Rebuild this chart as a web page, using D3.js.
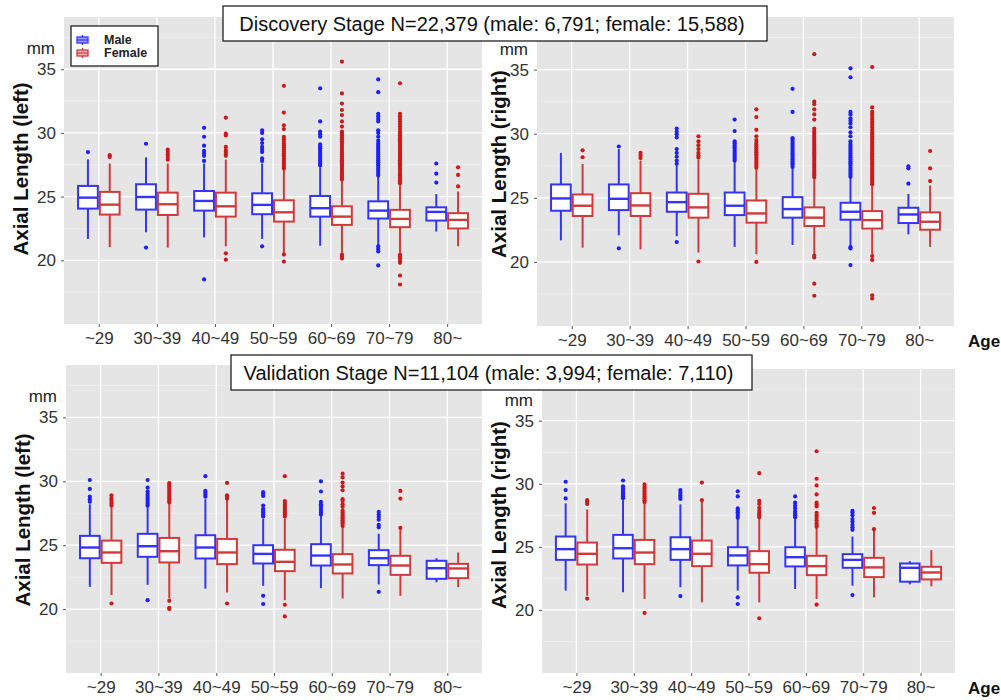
<!DOCTYPE html>
<html>
<head>
<meta charset="utf-8">
<script src="https://cdn.jsdelivr.net/npm/d3@7"></script>
<style>
  body { margin: 0; background: #fff; }
  svg { font-family: Arial, "Liberation Sans", sans-serif; }
</style>
</head>
<body>
<div id="chart"></div>
<script>
const ages = ['~29', '30~39', '40~49', '50~59', '60~69', '70~79', '80~']
const sexes = ['Male', 'Female']
const yTicks = [20, 25, 30, 35]
const yMinor = [17.5, 22.5, 27.5, 32.5, 37.5]
const yDomain = [15, 39.1]

/* [lower whisker, q1, median, q3, upper whisker] */
const tlMale = [
  [21.68, 24.06, 24.92, 25.84, 27.92], [22.2, 23.98, 24.97, 25.97, 28.08], [21.8, 23.9, 24.66, 25.44, 27.6],
  [21.68, 23.62, 24.35, 25.26, 27.6], [21.14, 23.43, 24.09, 25.05, 27.3], [21.2, 23.28, 23.9, 24.63, 26.55],
  [22.26, 23.12, 23.8, 24.16, 25.2]
]
const tlFemale = [
  [21.03, 23.59, 24.37, 25.37, 27.6], [21.0, 23.56, 24.4, 25.31, 27.6], [21.1, 23.43, 24.24, 25.31, 27.9],
  [20.56, 23.04, 23.77, 24.71, 27.1], [20.6, 22.78, 23.43, 24.24, 26.3], [20.6, 22.6, 23.25, 23.96, 26.0],
  [21.1, 22.5, 23.17, 23.7, 25.4]
]
const tlMaleOut = [
  [28.5],
  [29.15, 21.0],
  [27.8, 28.2, 28.4, 28.6, 29.0, 29.7, 30.4, 18.5],
  [27.8, 28.0, 28.5, 28.7, 28.9, 29.2, 29.5, 30.0, 30.2, 21.1],
  [27.45, 27.6, 27.75, 27.9, 28.05, 28.2, 28.35, 28.5, 28.65, 28.8, 28.95, 29.1, 29.7, 29.9, 30.1, 30.9, 33.5],
  [26.65, 26.8, 26.95, 27.1, 27.25, 27.4, 27.55, 27.7, 27.85, 28.0, 28.15, 28.3, 28.45, 28.6, 28.75, 28.9,
   29.05, 29.2, 29.4, 29.7, 30.0, 30.2, 30.9, 31.1, 31.3, 31.5, 33.2, 34.2, 21.1, 20.9, 20.7, 19.6],
  [26.1, 26.8, 27.6]
]
const tlFemaleOut = [
  [28.1, 28.25],
  [27.9, 28.1, 28.3, 28.5, 28.7],
  [28.2, 28.35, 28.5, 28.65, 28.9, 29.8, 29.95, 31.2, 20.55, 20.05],
  [27.2, 27.35, 27.5, 27.65, 27.8, 27.95, 28.1, 28.25, 28.4, 28.55, 28.7, 28.85, 29.0, 29.15, 29.3, 29.5,
   29.7, 30.3, 30.6, 31.6, 33.7, 20.45, 19.9],
  [26.35, 26.5, 26.65, 26.8, 26.95, 27.1, 27.25, 27.4, 27.55, 27.7, 27.85, 28.0, 28.15, 28.3, 28.45, 28.6,
   28.75, 28.9, 29.05, 29.2, 29.35, 29.5, 29.65, 29.8, 29.95, 30.1, 30.5, 30.9, 31.4, 31.8, 32.3, 33.1, 35.6,
   20.15, 20.3, 20.45],
  [26.05, 26.2, 26.35, 26.5, 26.65, 26.8, 26.95, 27.1, 27.25, 27.4, 27.55, 27.7, 27.85, 28.0, 28.15, 28.3,
   28.45, 28.6, 28.75, 28.9, 29.05, 29.2, 29.35, 29.5, 29.65, 29.8, 29.95, 30.1, 30.3, 30.5, 30.7, 30.9,
   31.1, 31.3, 31.5, 33.9, 20.45, 20.3, 20.15, 19.95, 19.8, 18.8, 18.1],
  [25.8, 26.7, 27.3]
]

const trMale = [
  [21.68, 23.99, 24.95, 26.04, 28.5], [22.07, 24.04, 24.92, 26.04, 28.8], [22.0, 23.91, 24.66, 25.41, 27.5],
  [21.17, 23.65, 24.38, 25.41, 27.8], [21.32, 23.45, 24.12, 25.05, 27.3], [21.24, 23.29, 23.91, 24.61, 26.55],
  [22.15, 23.03, 23.7, 24.22, 25.3]
]
const trFemale = [
  [21.11, 23.58, 24.38, 25.26, 27.64], [20.98, 23.58, 24.4, 25.36, 27.9], [20.73, 23.45, 24.25, 25.31, 28.0],
  [20.6, 23.06, 23.78, 24.79, 27.3], [20.6, 22.8, 23.45, 24.25, 26.55], [20.6, 22.6, 23.26, 23.96, 26.0],
  [21.17, 22.51, 23.13, 23.86, 25.96]
]
const trMaleOut = [
  [],
  [29.0, 21.06],
  [27.65, 27.9, 28.2, 28.5, 28.8, 29.7, 29.95, 30.15, 30.4, 21.55],
  [27.9, 28.05, 28.2, 28.35, 28.5, 28.65, 28.8, 28.95, 29.1, 29.25, 29.4, 30.2, 31.1],
  [27.4, 27.55, 27.7, 27.85, 28.0, 28.15, 28.3, 28.45, 28.6, 28.75, 28.9, 29.05, 29.2, 29.35, 29.5, 29.65,
   31.7, 33.5],
  [26.65, 26.8, 26.95, 27.1, 27.25, 27.4, 27.55, 27.7, 27.85, 28.0, 28.15, 28.3, 28.45, 28.6, 28.75, 28.9,
   29.05, 29.2, 29.4, 29.8, 30.1, 30.5, 30.8, 31.0, 31.2, 31.5, 31.7, 34.4, 35.1, 21.15, 21.05, 19.75],
  [26.1, 27.3, 27.45]
]
const trFemaleOut = [
  [28.16, 28.7],
  [28.1, 28.3, 28.5],
  [28.15, 28.3, 28.5, 28.8, 29.1, 29.4, 29.8, 20.03],
  [27.35, 27.5, 27.65, 27.8, 27.95, 28.1, 28.25, 28.4, 28.55, 28.7, 28.85, 29.0, 29.15, 29.3, 29.5, 29.8,
   30.3, 31.3, 31.9, 20.0],
  [26.6, 26.75, 26.9, 27.05, 27.2, 27.35, 27.5, 27.65, 27.8, 27.95, 28.1, 28.25, 28.4, 28.55, 28.7, 28.85,
   29.0, 29.15, 29.3, 29.45, 29.6, 29.75, 29.9, 30.05, 30.2, 30.4, 31.1, 31.5, 31.9, 32.3, 32.5, 36.2,
   20.35, 20.5, 18.3, 17.36],
  [26.05, 26.2, 26.35, 26.5, 26.65, 26.8, 26.95, 27.1, 27.25, 27.4, 27.55, 27.7, 27.85, 28.0, 28.15, 28.3,
   28.45, 28.6, 28.75, 28.9, 29.05, 29.2, 29.35, 29.5, 29.65, 29.8, 29.95, 30.1, 30.3, 30.5, 30.7, 30.9,
   31.1, 31.3, 31.5, 31.7, 32.05, 35.2, 20.45, 20.15, 17.4, 17.15],
  [26.3, 27.3, 28.65]
]

const blMale = [
  [21.74, 23.98, 24.82, 25.73, 28.2], [21.9, 24.09, 24.92, 25.89, 28.0], [21.6, 23.96, 24.82, 25.78, 28.6],
  [21.82, 23.57, 24.32, 25.0, 27.08], [21.64, 23.41, 24.19, 25.08, 27.3], [21.93, 23.44, 23.98, 24.61, 25.9],
  [22.1, 22.37, 23.2, 23.78, 23.98]
]
const blFemale = [
  [21.1, 23.62, 24.43, 25.36, 28.0], [20.83, 23.65, 24.53, 25.57, 28.26], [21.3, 23.52, 24.43, 25.49, 28.6],
  [20.7, 22.97, 23.7, 24.64, 27.1], [20.83, 22.79, 23.49, 24.3, 26.4], [21.04, 22.68, 23.41, 24.17, 26.2],
  [21.72, 22.42, 23.18, 23.54, 24.43]
]
const blMaleOut = [
  [28.4, 28.6, 28.8, 29.4, 30.1],
  [28.1, 28.25, 28.4, 28.55, 28.7, 28.85, 29.0, 29.2, 29.5, 30.1, 20.7],
  [28.8, 28.95, 29.1, 29.25, 30.4],
  [27.25, 27.4, 27.55, 27.7, 27.85, 28.1, 28.85, 29.0, 29.15, 21.04, 20.4],
  [27.4, 27.55, 27.7, 27.85, 28.05, 28.2, 28.4, 29.2, 30.0],
  [26.4, 26.6, 27.0, 27.2, 27.4, 27.6, 21.35],
  []
]
const blFemaleOut = [
  [28.1, 28.25, 28.4, 28.55, 28.7, 28.9, 20.44],
  [28.35, 28.5, 28.65, 28.8, 28.95, 29.1, 29.25, 29.4, 29.55, 29.7, 29.85, 20.65, 20.1, 20.0],
  [28.65, 28.8, 28.9, 29.87, 20.44],
  [27.25, 27.4, 27.55, 27.7, 27.85, 28.0, 28.15, 28.3, 28.45, 30.4, 20.34, 19.43],
  [26.5, 26.65, 26.8, 26.95, 27.1, 27.25, 27.4, 27.55, 27.7, 28.0, 28.2, 28.45, 28.6, 29.3, 29.6, 29.9,
   30.3, 30.6],
  [26.35, 28.65, 29.25],
  []
]

const brMale = [
  [21.53, 23.97, 24.82, 25.82, 28.45], [21.4, 24.08, 24.89, 25.95, 28.7], [21.8, 23.97, 24.82, 25.76, 28.37],
  [21.53, 23.53, 24.32, 24.97, 27.2], [21.66, 23.45, 24.18, 24.97, 27.3], [21.92, 23.34, 23.97, 24.42, 25.82],
  [22.03, 22.24, 23.34, 23.68, 23.87]
]
const brFemale = [
  [21.13, 23.6, 24.45, 25.34, 27.97], [20.87, 23.63, 24.55, 25.55, 28.5], [20.6, 23.47, 24.45, 25.5, 28.68],
  [20.6, 22.95, 23.63, 24.66, 27.3], [20.87, 22.76, 23.47, 24.29, 26.5], [21.0, 22.6, 23.37, 24.13, 26.4],
  [21.87, 22.42, 22.97, 23.42, 24.74]
]
const brMaleOut = [
  [28.84, 29.5, 30.16],
  [28.85, 29.0, 29.15, 29.3, 29.45, 29.6, 29.8, 30.26],
  [28.8, 28.95, 29.1, 29.3, 29.5, 21.1],
  [27.3, 27.45, 27.6, 27.75, 27.9, 28.05, 29.0, 29.4, 21.0, 20.47],
  [27.35, 27.5, 27.65, 27.8, 28.05, 28.25, 28.5, 29.0],
  [26.35, 26.55, 26.75, 27.0, 27.2, 27.5, 27.7, 27.85, 21.18],
  []
]
const brFemaleOut = [
  [28.4, 28.55, 28.7, 20.9],
  [28.55, 28.7, 28.85, 29.0, 29.15, 29.3, 29.45, 29.6, 29.75, 29.95, 19.76],
  [28.7, 30.1],
  [27.35, 27.5, 27.65, 27.85, 28.1, 28.4, 28.65, 30.84, 19.34],
  [26.6, 26.75, 26.9, 27.1, 27.3, 27.5, 27.7, 28.2, 28.35, 28.5, 29.16, 29.87, 30.4, 32.58, 20.42],
  [26.4, 27.7, 28.08],
  []
]

const discoveryTitle = 'Discovery Stage N=22,379 (male: 6,791; female: 15,588)'
const validationTitle = 'Validation Stage N=11,104 (male: 3,994; female: 7,110)'

let width = 1001
let height = 700
let boxColor = { Male: '#3434f8', Female: '#d03a3a' }
let dotColor = { Male: '#1e1eff', Female: '#cc1a1a' }

let panels = [
  { x0: 64, x1: 482, y0: 17, y1: 324, title: 'Axial Length (left)', tx: 28, ty: 169, age: false,
    stats: { Male: tlMale, Female: tlFemale }, outs: { Male: tlMaleOut, Female: tlFemaleOut } },
  { x0: 537, x1: 954, y0: 17, y1: 326, title: 'Axial Length (right)', tx: 506, ty: 164, age: true,
    stats: { Male: trMale, Female: trFemale }, outs: { Male: trMaleOut, Female: trFemaleOut } },
  { x0: 66, x1: 482, y0: 365, y1: 673, title: 'Axial Length (left)', tx: 30, ty: 520, age: false,
    stats: { Male: blMale, Female: blFemale }, outs: { Male: blMaleOut, Female: blFemaleOut } },
  { x0: 542, x1: 955, y0: 369, y1: 673, title: 'Axial Length (right)', tx: 506, ty: 515, age: true,
    stats: { Male: brMale, Female: brFemale }, outs: { Male: brMaleOut, Female: brFemaleOut } }
]

let svg = d3.select('#chart').append('svg')
  .attr('width', width)
  .attr('height', height)

panels.forEach(p => drawPanel(p))

function drawPanel(p) {
  let x = d3.scalePoint().domain(ages).range([p.x0, p.x1]).padding(0.6)
  let step = x.step()
  let dodge = d3.scaleBand().domain(sexes).range([-0.375 * step, 0.375 * step])
  let bw = dodge.bandwidth()
  let y = d3.scaleLinear().domain(yDomain).range([p.y1, p.y0])

  let g = svg.append('g')

  g.append('rect')
    .attr('x', p.x0).attr('y', p.y0)
    .attr('width', p.x1 - p.x0).attr('height', p.y1 - p.y0)
    .attr('fill', '#e5e5e5')

  /* grid */
  g.selectAll('.minor').data(yMinor).enter().append('line')
    .attr('x1', p.x0).attr('x2', p.x1)
    .attr('y1', d => y(d)).attr('y2', d => y(d))
    .attr('stroke', '#f2f2f2').attr('stroke-width', 0.7)
  g.selectAll('.major').data(yTicks).enter().append('line')
    .attr('x1', p.x0).attr('x2', p.x1)
    .attr('y1', d => y(d)).attr('y2', d => y(d))
    .attr('stroke', '#fff').attr('stroke-width', 1.3)
  g.selectAll('.vgrid').data(ages).enter().append('line')
    .attr('x1', d => x(d)).attr('x2', d => x(d))
    .attr('y1', p.y0).attr('y2', p.y1)
    .attr('stroke', '#fff').attr('stroke-width', 1.3)

  /* axes */
  let yAxis = g.append('g')
    .attr('transform', `translate(${p.x0},0)`)
    .call(d3.axisLeft(y).tickValues(yTicks).tickSize(3).tickPadding(5))
  let xAxis = g.append('g')
    .attr('transform', `translate(0,${p.y1})`)
    .call(d3.axisBottom(x).tickSize(3).tickPadding(5))
  ;[yAxis, xAxis].forEach(a => {
    a.select('.domain').remove()
    a.selectAll('.tick line').attr('stroke', '#555')
    a.selectAll('.tick text')
      .attr('fill', '#333')
      .style('font-size', '17px')
      .style('font-family', 'Arial, "Liberation Sans", sans-serif')
  })

  g.append('text')
    .attr('x', p.x0 - 9).attr('y', y(35) - 15)
    .attr('text-anchor', 'end')
    .attr('fill', '#222')
    .style('font-size', '17px')
    .text('mm')

  g.append('text')
    .attr('transform', `translate(${p.tx},${p.ty}) rotate(-90)`)
    .attr('text-anchor', 'middle')
    .attr('fill', '#111')
    .style('font-size', '20.5px')
    .style('font-weight', 'bold')
    .text(p.title)

  if (p.age) {
    g.append('text')
      .attr('x', 968).attr('y', p.y1 + 21)
      .attr('fill', '#111')
      .style('font-size', '17px')
      .style('font-weight', 'bold')
      .text('Age')
  }

  /* boxes */
  sexes.forEach(s => {
    let rows = p.stats[s].map((v, i) => ({ age: ages[i], v: v, out: p.outs[s][i] }))
    let bg = g.append('g')
    let cx = d => x(d.age) + dodge(s) + bw / 2

    bg.selectAll('.wl').data(rows).enter().append('line')
      .attr('x1', cx).attr('x2', cx)
      .attr('y1', d => y(d.v[0])).attr('y2', d => y(d.v[1]))
      .attr('stroke', boxColor[s]).attr('stroke-width', 2)
    bg.selectAll('.wh').data(rows).enter().append('line')
      .attr('x1', cx).attr('x2', cx)
      .attr('y1', d => y(d.v[3])).attr('y2', d => y(d.v[4]))
      .attr('stroke', boxColor[s]).attr('stroke-width', 2)
    bg.selectAll('.box').data(rows).enter().append('rect')
      .attr('x', d => x(d.age) + dodge(s) + 1)
      .attr('y', d => y(d.v[3]))
      .attr('width', bw - 2)
      .attr('height', d => y(d.v[1]) - y(d.v[3]))
      .attr('fill', '#fff')
      .attr('stroke', boxColor[s]).attr('stroke-width', 2)
    bg.selectAll('.med').data(rows).enter().append('line')
      .attr('x1', d => x(d.age) + dodge(s) + 1)
      .attr('x2', d => x(d.age) + dodge(s) + bw - 1)
      .attr('y1', d => y(d.v[2])).attr('y2', d => y(d.v[2]))
      .attr('stroke', boxColor[s]).attr('stroke-width', 2.4)

    let pts = []
    rows.forEach(d => d.out.forEach(o => pts.push({ age: d.age, val: o })))
    bg.selectAll('.out').data(pts).enter().append('circle')
      .attr('cx', cx)
      .attr('cy', d => y(d.val))
      .attr('r', 2.1)
      .attr('fill', dotColor[s])
  })
}

/* stage titles */
function stageTitle(txt, x0, x1, y0, y1) {
  svg.append('rect')
    .attr('x', x0).attr('y', y0)
    .attr('width', x1 - x0).attr('height', y1 - y0)
    .attr('fill', '#fff').attr('stroke', '#222').attr('stroke-width', 1.3)
  svg.append('text')
    .attr('x', (x0 + x1) / 2 - 3).attr('y', (y0 + y1) / 2 + 7)
    .attr('text-anchor', 'middle')
    .attr('fill', '#111')
    .style('font-size', '20px')
    .text(txt)
}
stageTitle(discoveryTitle, 223, 767, 6, 41)
stageTitle(validationTitle, 231, 752, 355, 390)

/* legend */
let legend = svg.append('g').attr('transform', 'translate(71,26)')
legend.append('rect')
  .attr('width', 87).attr('height', 40)
  .attr('fill', '#fff').attr('stroke', '#222').attr('stroke-width', 1.3)
sexes.forEach((s, i) => {
  let ly = 14 + i * 13
  legend.append('line')
    .attr('x1', 11.5).attr('x2', 11.5)
    .attr('y1', ly - 5).attr('y2', ly + 5)
    .attr('stroke', boxColor[s]).attr('stroke-width', 1.5)
  legend.append('rect')
    .attr('x', 6).attr('y', ly - 3)
    .attr('width', 11).attr('height', 6)
    .attr('fill', s === 'Male' ? '#9a9aff' : '#f0b0b0')
    .attr('stroke', boxColor[s]).attr('stroke-width', 1.3)
  legend.append('line')
    .attr('x1', 6).attr('x2', 17)
    .attr('y1', ly).attr('y2', ly)
    .attr('stroke', boxColor[s]).attr('stroke-width', 1.2)
  legend.append('text')
    .attr('x', 33).attr('y', ly + 4)
    .attr('fill', '#222')
    .style('font-size', '12.5px')
    .style('font-weight', 'bold')
    .text(s)
})
</script>
</body>
</html>
